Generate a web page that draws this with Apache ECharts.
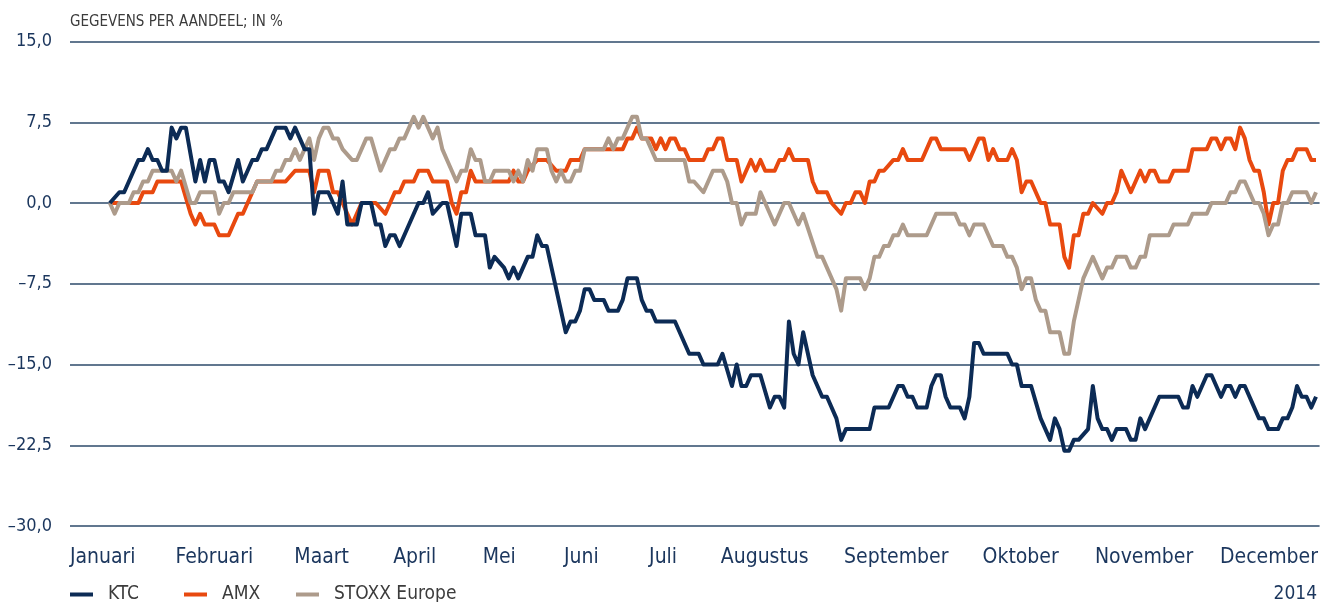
<!DOCTYPE html>
<html>
<head>
<meta charset="utf-8">
<title>KTC AMX STOXX 2014</title>
<script src="https://cdn.jsdelivr.net/npm/echarts@6/dist/echarts.min.js"></script>
<style>
  html, body { margin: 0; padding: 0; background: #fff; }
  #chart { width: 1321px; height: 602px; }
</style>
</head>
<body>
<div id="chart"></div>
<script>
// trading day index (0 = first trading day of 2014) and return in %
const ktcPoints = [
  [0,0],[2,1],[3,1],[6,4],[7,4],[8,5],[9,4],[10,4],[11,3],[12,3],[13,7],[14,6],[15,7],[16,7],
  [18,2],[19,4],[20,2],[21,4],[22,4],[23,2],[24,2],[25,1],[27,4],[28,2],[30,4],[31,4],[32,5],
  [33,5],[35,7],[37,7],[38,6],[39,7],[41,5],[42,5],[43,-1],[44,1],[46,1],[48,-1],[49,2],[50,-2],
  [52,-2],[53,0],[55,0],[56,-2],[57,-2],[58,-4],[59,-3],[60,-3],[61,-4],[65,0],[66,0],[67,1],
  [68,-1],[70,0],[71,0],[72,-2],[73,-4],[74,-1],[76,-1],[77,-3],[79,-3],[80,-6],[81,-5],[83,-6],
  [84,-7],[85,-6],[86,-7],[88,-5],[89,-5],[90,-3],[91,-4],[92,-4],[96,-12],[97,-11],[98,-11],
  [99,-10],[100,-8],[101,-8],[102,-9],[104,-9],[105,-10],[107,-10],[108,-9],[109,-7],[111,-7],
  [112,-9],[113,-10],[114,-10],[115,-11],[119,-11],[122,-14],[124,-14],[125,-15],[128,-15],
  [129,-14],[131,-17],[132,-15],[133,-17],[134,-17],[135,-16],[137,-16],[139,-19],[140,-18],
  [141,-18],[142,-19],[143,-11],[144,-14],[145,-15],[146,-12],[148,-16],[149,-17],[150,-18],
  [151,-18],[153,-20],[154,-22],[155,-21],[160,-21],[161,-19],[164,-19],[166,-17],[167,-17],
  [168,-18],[169,-18],[170,-19],[172,-19],[173,-17],[174,-16],[175,-16],[176,-18],[177,-19],
  [179,-19],[180,-20],[181,-18],[182,-13],[183,-13],[184,-14],[189,-14],[190,-15],[191,-15],
  [192,-17],[194,-17],[196,-20],[198,-22],[199,-20],[200,-21],[201,-23],[202,-23],[203,-22],
  [204,-22],[206,-21],[207,-17],[208,-20],[209,-21],[210,-21],[211,-22],[212,-21],[214,-21],
  [215,-22],[216,-22],[217,-20],[218,-21],[221,-18],[225,-18],[226,-19],[227,-19],[228,-17],
  [229,-18],[231,-16],[232,-16],[234,-18],[235,-17],[236,-17],[237,-18],[238,-17],[239,-17],
  [242,-20],[243,-20],[244,-21],[246,-21],[247,-20],[248,-20],[249,-19],[250,-17],[251,-18],
  [252,-18],[253,-19],[254,-18]
];
const amxPoints = [
  [0,0],[6,0],[7,1],[9,1],[10,2],[15,2],[17,-1],[18,-2],[19,-1],[20,-2],[22,-2],[23,-3],[25,-3],
  [27,-1],[28,-1],[30,1],[31,2],[37,2],[39,3],[42,3],[43,1],[44,3],[46,3],[47,1],[48,1],[51,-2],
  [53,0],[56,0],[58,-1],[60,1],[61,1],[62,2],[64,2],[65,3],[67,3],[68,2],[71,2],[72,0],[73,-1],
  [74,1],[75,1],[76,3],[77,2],[84,2],[85,3],[86,2],[87,2],[88,3],[90,4],[92,4],[94,3],[96,3],
  [97,4],[99,4],[100,5],[108,5],[109,6],[110,6],[111,7],[112,6],[114,6],[115,5],[116,6],[117,5],
  [118,6],[119,6],[120,5],[121,5],[122,4],[125,4],[126,5],[127,5],[128,6],[129,6],[130,4],
  [132,4],[133,2],[135,4],[136,3],[137,4],[138,3],[140,3],[141,4],[142,4],[143,5],[144,4],
  [147,4],[148,2],[149,1],[151,1],[152,0],[154,-1],[155,0],[156,0],[157,1],[158,1],[159,0],
  [160,2],[161,2],[162,3],[163,3],[165,4],[166,4],[167,5],[168,4],[171,4],[173,6],[174,6],
  [175,5],[180,5],[181,4],[183,6],[184,6],[185,4],[186,5],[187,4],[189,4],[190,5],[191,4],
  [192,1],[193,2],[194,2],[196,0],[197,0],[198,-2],[200,-2],[201,-5],[202,-6],[203,-3],[204,-3],
  [205,-1],[206,-1],[207,0],[209,-1],[210,0],[211,0],[212,1],[213,3],[215,1],[217,3],[218,2],
  [219,3],[220,3],[221,2],[223,2],[224,3],[227,3],[228,5],[231,5],[232,6],[233,6],[234,5],
  [235,6],[236,6],[237,5],[238,7],[239,6],[240,4],[241,3],[242,3],[243,1],[244,-2],[245,0],
  [246,0],[247,3],[248,4],[249,4],[250,5],[252,5],[253,4],[254,4]
];
const stoxxPoints = [
  [0,0],[1,-1],[2,0],[4,0],[5,1],[6,1],[7,2],[8,2],[9,3],[13,3],[14,2],[15,3],[17,0],[18,0],
  [19,1],[22,1],[23,-1],[24,0],[25,0],[26,1],[30,1],[31,2],[34,2],[35,3],[36,3],[37,4],[38,4],
  [39,5],[40,4],[41,5],[42,6],[43,4],[44,6],[45,7],[46,7],[47,6],[48,6],[49,5],[51,4],[52,4],
  [54,6],[55,6],[57,3],[59,5],[60,5],[61,6],[62,6],[63,7],[64,8],[65,7],[66,8],[68,6],[69,7],
  [70,5],[71,4],[73,2],[74,3],[75,3],[76,5],[77,4],[78,4],[79,2],[80,2],[81,3],[84,3],[85,2],
  [86,3],[87,2],[88,4],[89,3],[90,5],[92,5],[93,3],[94,2],[95,3],[96,2],[97,2],[98,3],[99,3],
  [100,5],[104,5],[105,6],[106,5],[107,6],[108,6],[109,7],[110,8],[111,8],[112,6],[113,6],
  [114,5],[115,4],[121,4],[122,2],[123,2],[125,1],[127,3],[129,3],[130,2],[131,0],[132,0],
  [133,-2],[134,-1],[136,-1],[137,1],[140,-2],[142,0],[143,0],[145,-2],[146,-1],[149,-5],
  [150,-5],[152,-7],[153,-8],[154,-10],[155,-7],[158,-7],[159,-8],[160,-7],[161,-5],[162,-5],
  [163,-4],[164,-4],[165,-3],[166,-3],[167,-2],[168,-3],[172,-3],[174,-1],[178,-1],[179,-2],
  [180,-2],[181,-3],[182,-2],[184,-2],[186,-4],[188,-4],[189,-5],[190,-5],[191,-6],[192,-8],
  [193,-7],[194,-7],[195,-9],[196,-10],[197,-10],[198,-12],[200,-12],[201,-14],[202,-14],
  [203,-11],[204,-9],[205,-7],[207,-5],[209,-7],[210,-6],[211,-6],[212,-5],[214,-5],[215,-6],
  [216,-6],[217,-5],[218,-5],[219,-3],[223,-3],[224,-2],[227,-2],[228,-1],[231,-1],[232,0],
  [235,0],[236,1],[237,1],[238,2],[239,2],[241,0],[242,0],[243,-1],[244,-3],[245,-2],[246,-2],
  [247,0],[248,0],[249,1],[252,1],[253,0],[254,1]
];

const monthNames = ['Januari', 'Februari', 'Maart', 'April', 'Mei', 'Juni', 'Juli',
  'Augustus', 'September', 'Oktober', 'November', 'December'];
// where each month label sits on the day axis
const monthLabelDays = [-1.5, 22, 44.6, 64.2, 82, 99.3, 116.5, 137.9, 165.6, 191.8, 217.8, 244.1];

const yTicks = [15, 7.5, 0, -7.5, -15, -22.5, -30];
const yTickLabels = ['15,0', '7,5', '0,0', '\u20137,5', '\u201315,0', '\u201322,5', '\u201330,0'];

const FONT = "'DejaVu Sans Condensed', 'Liberation Sans Narrow', sans-serif";
const NAVY = '#1b365d';

var myChart = echarts.init(document.getElementById('chart'));

function legendAt(name, left) {
    return {
        data: [name],
        left: left,
        top: 585,
        padding: 0,
        icon: 'rect',
        itemWidth: 23,
        itemHeight: 4,
        selectedMode: false,
        textStyle: { fontFamily: FONT, fontSize: 19, color: '#3c3c3c', padding: [0, 0, 0, 10] }
    };
}

const option = {
    animation: false,
    title: [
        {
            text: 'GEGEVENS PER AANDEEL; IN %',
            left: 70,
            top: 15,
            padding: 0,
            textStyle: { fontFamily: FONT, fontSize: 15, fontWeight: 'normal', color: '#3c3c3c' }
        },
        {
            text: '2014',
            right: 4,
            top: 585,
            padding: 0,
            textStyle: { fontFamily: FONT, fontSize: 19, fontWeight: 'normal', color: NAVY }
        }
    ],
    legend: [legendAt('KTC', 70), legendAt('AMX', 184), legendAt('STOXX Europe', 296)],
    grid: { left: 70, right: 1, top: 41.5, bottom: 76 },
    xAxis: {
        type: 'value',
        min: -8.4,
        max: 254.75,
        axisLine: { show: false },
        axisTick: { show: false },
        splitLine: { show: false },
        axisLabel: {
            customValues: monthLabelDays,
            margin: 21,
            fontFamily: FONT,
            fontSize: 21,
            color: NAVY,
            formatter: function (v) {
                let best = 0;
                monthLabelDays.forEach(function (d, i) {
                    if (Math.abs(d - v) < Math.abs(monthLabelDays[best] - v)) best = i;
                });
                return monthNames[best];
            }
        }
    },
    yAxis: {
        type: 'value',
        min: -30,
        max: 15,
        interval: 7.5,
        axisLine: { show: false },
        axisTick: { show: false },
        splitLine: { lineStyle: { color: '#61778f', width: 2 } },
        axisLabel: {
            margin: 18,
            fontFamily: FONT,
            fontSize: 18,
            color: NAVY,
            formatter: function (v) {
                const i = yTicks.indexOf(v);
                return i >= 0 ? yTickLabels[i] : '';
            }
        }
    },
    series: [
        {
            name: 'AMX',
            type: 'line',
            data: amxPoints,
            showSymbol: false,
            color: '#e8490f',
            lineStyle: { width: 4, join: 'round' }
        },
        {
            name: 'STOXX Europe',
            type: 'line',
            data: stoxxPoints,
            showSymbol: false,
            color: '#ad9b8b',
            lineStyle: { width: 4, join: 'round' }
        },
        {
            name: 'KTC',
            type: 'line',
            data: ktcPoints,
            showSymbol: false,
            color: '#0c2b55',
            lineStyle: { width: 4, join: 'round' }
        }
    ]
};

myChart.setOption(option);
</script>
</body>
</html>
